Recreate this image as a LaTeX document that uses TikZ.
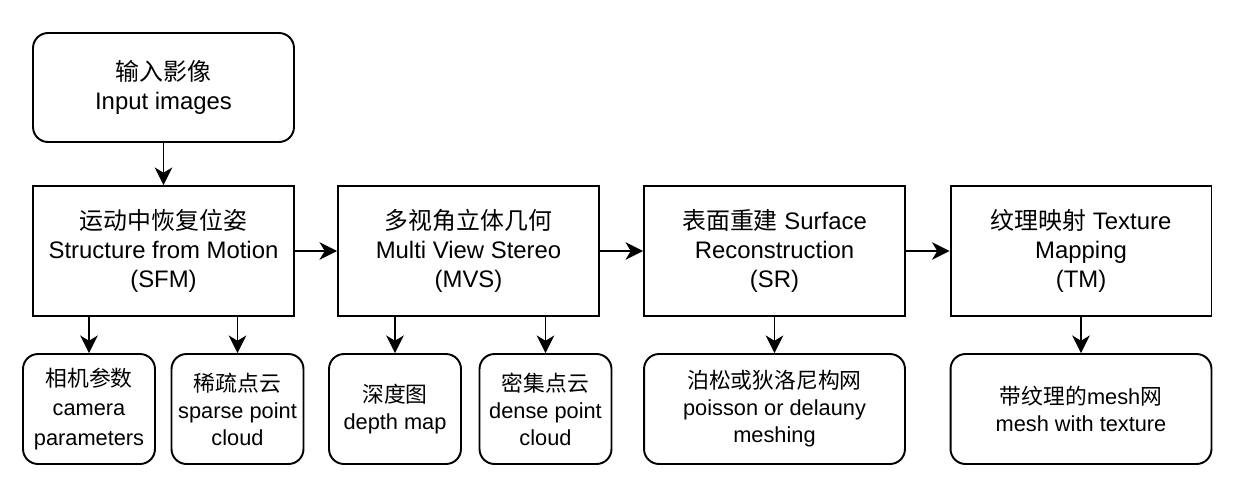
\documentclass[tikz,border=0pt]{standalone}
\usepackage{fontspec}
\setmainfont{Liberation Sans}
\newfontfamily\cjk{Noto Sans CJK SC}
\usetikzlibrary{arrows.meta}
\tikzset{
  proc/.style={draw,line width=1.1pt,align=center,minimum width=5.22cm,minimum height=2.6cm,
    font=\fontsize{13.6}{16.4}\selectfont},
  term/.style={proc,rounded corners=0.3cm,minimum height=2.18cm},
  leaf/.style={draw,line width=1.1pt,rounded corners=0.3cm,align=center,minimum width=2.64cm,
    minimum height=2.2cm,inner sep=1pt,font=\fontsize{12.4}{15.4}\selectfont},
  wideleaf/.style={leaf,minimum width=5.22cm}
}
\begin{document}
\begin{tikzpicture}[x=0.02cm,y=-0.02cm,->,>={Stealth[length=10pt,width=10pt,inset=3pt]},line width=1.1pt]
  \useasboundingbox (0,0) rectangle (1239,494);
  % main chain
  \node[term] (in)  at (163.5,87.5) {{\cjk 输入影像}\\Input images};
  \node[proc] (sfm) at (163.5,251) {{\cjk 运动中恢复位姿}\\Structure from Motion\\(SFM)};
  \node[proc] (mvs) at (468.5,251) {{\cjk 多视角立体几何}\\Multi View Stereo\\(MVS)};
  \node[proc] (sr)  at (774.5,251) {{\cjk 表面重建} Surface\\Reconstruction\\(SR)};
  \node[proc] (tm)  at (1081,251)  {{\cjk 纹理映射} Texture\\Mapping\\(TM)};
  % outputs
  \node[leaf] (cam) at (89,409)    {{\cjk 相机参数}\\[1pt]camera\\[2pt]parameters};
  \node[leaf] (spc) at (237.5,409) {{\cjk 稀疏点云}\\sparse point\\cloud};
  \node[leaf] (dep) at (395,409)   {{\cjk 深度图}\\depth map};
  \node[leaf] (dpc) at (545.5,409) {{\cjk 密集点云}\\dense point\\cloud};
  \node[wideleaf] (msh) at (774.5,409) {{\cjk 泊松或狄洛尼构网}\\poisson or delauny\\meshing};
  \node[wideleaf] (tex) at (1081,409)  {{\cjk 带纹理的}mesh{\cjk 网}\\mesh with texture};
  \draw (in) -- (sfm);
  \draw (sfm) -- (mvs);
  \draw (mvs) -- (sr);
  \draw (sr) -- (tm);
  \draw (sfm.south -| cam) -- (cam);
  \draw (sfm.south -| spc) -- (spc);
  \draw (mvs.south -| dep) -- (dep);
  \draw (mvs.south -| dpc) -- (dpc);
  \draw (sr) -- (msh);
  \draw (tm) -- (tex);
\end{tikzpicture}
\end{document}
